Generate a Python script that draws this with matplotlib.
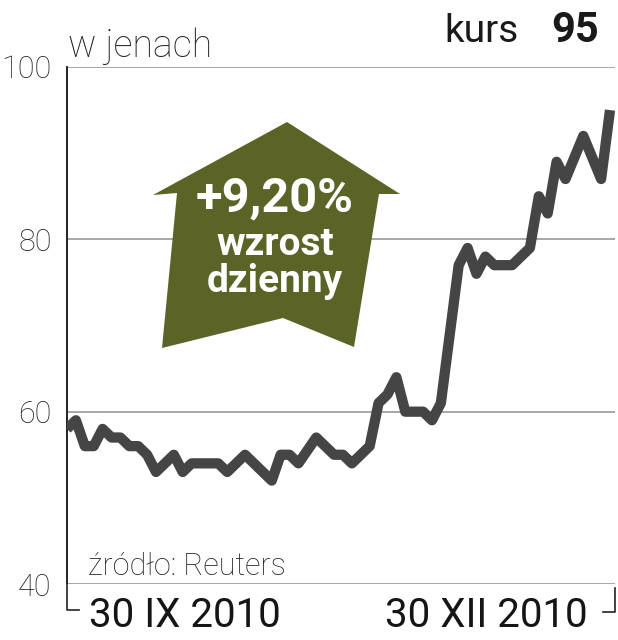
import matplotlib
matplotlib.use('Agg')
import matplotlib.pyplot as plt
from matplotlib.patches import Polygon
from matplotlib.lines import Line2D

# kurs w jenach, notowania dzienne 30 IX - 30 XII 2010
kurs = [58, 59, 56, 56, 58, 57, 57, 56, 56, 55,
        53, 54, 55, 53, 54, 54, 54, 54, 53, 54,
        55, 54, 53, 52, 55, 55, 54, 55.5, 57, 56,
        55, 55, 54, 55, 56, 61, 62, 64, 60, 60,
        60, 59, 61, 69, 77, 79, 76, 78, 77, 77,
        77, 78, 79, 85, 83, 89, 87, 89.5, 92, 89.5,
        87, 95]
yticks = [40, 60, 80, 100]
date_labels = ['30 IX 2010', '30 XII 2010']

plt.rcParams['font.family'] = ['Roboto', 'DejaVu Sans']

W, H = 618, 640
fig = plt.figure(figsize=(W / 100, H / 100), dpi=100)

def px(x, y):
    return x / W, 1 - y / H

ax = fig.add_axes([67 / W, 1 - 584 / H, (615 - 67) / W, (584 - 67) / H])
ax.plot(range(len(kurs)), kurs, color='#454545', lw=7.4,
        solid_joinstyle='round', solid_capstyle='butt', zorder=3)
ax.set_xlim(0, 61.56)
ax.set_ylim(40, 100)
ax.set_yticks(yticks)
ax.set_xticks([])
ax.grid(axis='y', color='#a0a0a0', lw=1.3)
ax.set_axisbelow(True)
for s in ['top', 'right', 'bottom']:
    ax.spines[s].set_visible(False)
ax.spines['left'].set_color('#111111')
ax.spines['left'].set_linewidth(1.3)
ax.tick_params(axis='y', length=0, pad=11, labelsize=22, colors='#222222')
for lbl in ax.get_yticklabels():
    lbl.set_fontweight('light')

# strzalka
arrow = [(287, 122), (400, 194), (379, 194), (354, 347), (283, 318),
         (162, 348), (177, 193), (153, 195)]
fig.patches.append(Polygon([px(x, y) for x, y in arrow], closed=True,
                           transform=fig.transFigure, facecolor='#5b6426',
                           edgecolor='none', zorder=5))
fig.text(*px(275, 212), '+9,20%', color='white', fontsize=35, fontweight='bold',
         ha='center', va='baseline', zorder=6)
fig.text(*px(275, 255), 'wzrost', color='white', fontsize=28, fontweight='bold',
         ha='center', va='baseline', zorder=6)
fig.text(*px(275, 292), 'dzienny', color='white', fontsize=28, fontweight='bold',
         ha='center', va='baseline', zorder=6)

# naglowki
fig.text(*px(68, 57), 'w jenach', fontsize=27, fontweight='light',
         color='#222222', va='baseline')
fig.text(*px(444, 42), 'kurs', fontsize=28, fontweight='normal',
         color='#1a1a1a', va='baseline')
fig.text(*px(599, 42), '95', fontsize=30, fontweight='bold', color='#1a1a1a',
         ha='right', va='baseline')
fig.text(*px(88, 575), 'źródło: Reuters', fontsize=22, fontweight='light',
         color='#222222', va='baseline')

# daty i klamra
fig.text(*px(89, 627), date_labels[0], fontsize=29, fontweight='normal',
         color='#151515', va='baseline')
fig.text(*px(588, 627), date_labels[1], fontsize=29, fontweight='normal',
         color='#151515', ha='right', va='baseline')
for pts in [[(67, 586), (67, 610), (79, 610)], [(603, 612), (615, 612), (615, 588)]]:
    xs, ys = zip(*[px(x, y) for x, y in pts])
    fig.lines.append(Line2D(xs, ys, transform=fig.transFigure,
                            color='#222222', lw=1.2))

fig.savefig('out.png', dpi=100, facecolor='white')
